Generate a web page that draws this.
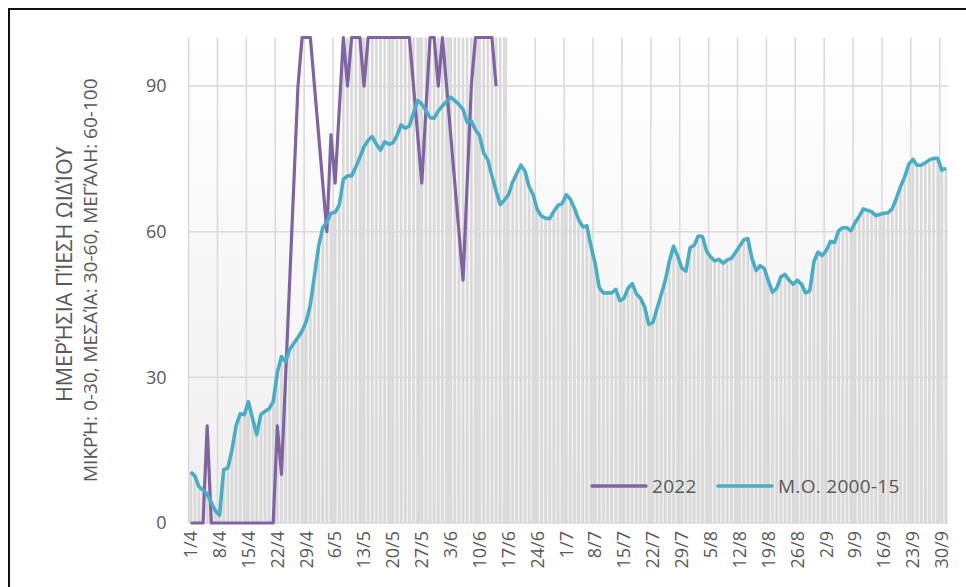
<!DOCTYPE html>
<html>
<head>
<meta charset="utf-8">
<script src="https://cdn.jsdelivr.net/npm/d3@7"></script>
<style>
  body { margin: 0; background: #fff; }
  text { font-family: "Open Sans", sans-serif; fill: #595959; }
</style>
</head>
<body>
<script>
const width = 966,
  height = 587;

const margin = { top: 37.5, right: 18, bottom: 64, left: 188.6 };
const innerWidth = width - margin.left - margin.right;
const innerHeight = height - margin.top - margin.bottom;

// 1/4 .. 1/10, one category per day
const days = d3.timeDay.range(new Date(2022, 3, 1), new Date(2022, 9, 2));
const dayLabel = d3.timeFormat("%-d/%-m");
const labels = days.map(dayLabel);

// M.O. 2000-15
const moValues = [
  10.5, 9.7, 7.5, 6.8, 6, 4.2, 2.5, 1.6, 11, 11.3,
  15, 20, 22.5, 22.3, 25, 21.5, 18.2, 22.3, 23, 23.5,
  25, 31, 34.3, 33.2, 35.8, 37, 38.2, 39.6, 41.5, 45,
  51, 57, 60.8, 62, 63.8, 64, 65.5, 70.8, 71.5, 71.5,
  73.3, 75.3, 77.5, 78.8, 79.6, 78, 76.8, 78.5, 78, 78.3,
  79.8, 82, 81.3, 81.8, 84.5, 87, 86.3, 85, 83.5, 83.4,
  84.9, 85.9, 86.8, 87.7, 87, 86.2, 85.2, 82.5, 82.8, 81,
  79.8, 76.2, 74.8, 71.5, 68.4, 65.6, 66.5, 67.6, 70.2, 72,
  73.7, 72.5, 69.3, 67.6, 64.5, 63.2, 62.8, 62.7, 64.2, 65.4,
  65.8, 67.6, 66.7, 64.8, 62.5, 61, 61.2, 57, 53.5, 48.5,
  47.4, 47.4, 47.4, 48.1, 45.8, 46.3, 48.4, 49.3, 47.2, 46.3,
  44.5, 40.9, 41.3, 44.2, 47, 50, 54, 57, 55, 52.5,
  51.9, 56.7, 57.2, 59.1, 59, 56, 54.8, 54, 54.3, 53.5,
  54.2, 54.5, 55.7, 57, 58.3, 58.6, 54.5, 52, 53, 52.4,
  49.8, 47.5, 48.4, 50.7, 51.2, 50, 49.2, 50, 49.2, 47.4,
  47.8, 53.8, 55.8, 55.1, 56.1, 58, 57.8, 60.2, 60.8, 60.8,
  60.2, 61.9, 63.2, 64.7, 64.4, 64.1, 63.3, 63.6, 63.8, 63.9,
  64.8, 66.9, 69.3, 71.3, 73.9, 74.9, 73.7, 73.7, 74.2, 74.8,
  75.1, 75.1, 72.7, 73.1
];

// 2022 (ends on 14/6)
const values2022 = [
  0, 0, 0, 0, 20, 0, 0, 0, 0, 0,
  0, 0, 0, 0, 0, 0, 0, 0, 0, 0,
  0, 20, 10, 30, 50, 70, 90, 100, 100, 100,
  90, 80, 70, 60, 80, 70, 85, 100, 90, 100,
  100, 100, 90, 100, 100, 100, 100, 100, 100, 100,
  100, 100, 100, 100, 90, 80, 70, 85, 100, 100,
  90, 100, 90, 80, 70, 60, 50, 70, 90, 100,
  100, 100, 100, 100, 90
];

// days where the grey columns run to the top of the scale
const fullBarDays = ["8/5", "16/6"];

const yTicks = [0, 30, 60, 90];
const legendItems = ["2022", "M.O. 2000-15"];
const colors = { y2022: "#8064a2", mo: "#4bacc6", bar: "#d9d9d9", grid: "#d9d9d9" };

const fullFrom = labels.indexOf(fullBarDays[0]);
const fullTo = labels.indexOf(fullBarDays[1]);
const barValues = moValues.map((v, i) => (i >= fullFrom && i <= fullTo ? 100 : v));

const xScale = d3
  .scaleBand()
  .domain(labels)
  .range([0, innerWidth])
  .padding(0);
const bw = xScale.bandwidth();
const xMid = d => xScale(d) + bw / 2;

const yScale = d3
  .scaleLinear()
  .domain([0, 100])
  .range([innerHeight, 0]);

const svg = d3
  .select("body")
  .append("svg")
  .attr("width", width)
  .attr("height", height);

// frame of the original document
svg.append("rect").attr("x", 8).attr("y", 8).attr("width", width - 8).attr("height", 2).attr("fill", "#111");
svg.append("rect").attr("x", 8).attr("y", 8).attr("width", 2).attr("height", height - 8).attr("fill", "#111");

const defs = svg.append("defs");
const grad = defs
  .append("linearGradient")
  .attr("id", "plotBg")
  .attr("x1", 0)
  .attr("y1", 0)
  .attr("x2", 0)
  .attr("y2", 1);
grad.append("stop").attr("offset", "0%").attr("stop-color", "#ffffff");
grad.append("stop").attr("offset", "100%").attr("stop-color", "#efefef");

const mainG = svg
  .append("g")
  .attr("transform", `translate(${margin.left}, ${margin.top})`);

mainG
  .append("rect")
  .attr("width", innerWidth)
  .attr("height", innerHeight)
  .attr("fill", "url(#plotBg)");

// weekly vertical gridlines
const weekLabels = labels.filter((d, i) => i % 7 === 0);
mainG
  .append("g")
  .selectAll("line")
  .data(weekLabels)
  .enter()
  .append("line")
  .attr("x1", d => xScale(d))
  .attr("x2", d => xScale(d))
  .attr("y1", 0)
  .attr("y2", innerHeight)
  .attr("stroke", colors.grid)
  .attr("stroke-width", 1.5);

// horizontal gridlines
mainG
  .append("g")
  .selectAll("line")
  .data(yTicks)
  .enter()
  .append("line")
  .attr("x1", 0)
  .attr("x2", innerWidth)
  .attr("y1", d => yScale(d))
  .attr("y2", d => yScale(d))
  .attr("stroke", colors.grid)
  .attr("stroke-width", 1.5);

// grey columns
mainG
  .append("g")
  .selectAll("rect")
  .data(labels)
  .enter()
  .append("rect")
  .attr("x", d => xScale(d) + bw * 0.18)
  .attr("width", bw * 0.64)
  .attr("y", (d, i) => yScale(barValues[i]))
  .attr("height", (d, i) => innerHeight - yScale(barValues[i]))
  .attr("fill", colors.bar);

const line = d3
  .line()
  .x(d => xMid(d.label))
  .y(d => yScale(d.value));

mainG
  .append("path")
  .datum(labels.map((d, i) => ({ label: d, value: values2022[i] })).filter(d => d.value !== undefined))
  .attr("d", line)
  .attr("fill", "none")
  .attr("stroke", colors.y2022)
  .attr("stroke-width", 3.2)
  .attr("stroke-linejoin", "round");

mainG
  .append("path")
  .datum(labels.map((d, i) => ({ label: d, value: moValues[i] })))
  .attr("d", line)
  .attr("fill", "none")
  .attr("stroke", colors.mo)
  .attr("stroke-width", 3.6)
  .attr("stroke-linejoin", "round");

// axes
const xAxis = d3
  .axisBottom(xScale)
  .tickValues(weekLabels)
  .tickSize(0);

mainG
  .append("g")
  .attr("id", "x-axis")
  .attr("transform", `translate(0,${innerHeight})`)
  .call(xAxis)
  .call(g => g.select(".domain").remove())
  .selectAll("text")
  .attr("font-size", 18)
  .attr("text-anchor", "end")
  .attr("transform", "rotate(-90)")
  .attr("x", -8)
  .attr("y", 0)
  .attr("dy", "0.35em");

const yAxis = d3
  .axisLeft(yScale)
  .tickValues(yTicks)
  .tickSize(0)
  .tickPadding(22);

mainG
  .append("g")
  .attr("id", "y-axis")
  .call(yAxis)
  .call(g => g.select(".domain").remove())
  .selectAll("text")
  .attr("font-size", 18);

mainG.selectAll(".tick text").style("fill", "#595959").attr("font-family", '"Open Sans", sans-serif');

// y axis titles
svg
  .append("text")
  .attr("transform", `translate(72, ${margin.top + innerHeight / 2 - 6}) rotate(-90)`)
  .attr("text-anchor", "middle")
  .attr("font-size", 21.5)
  .text("ΗΜΕΡΉΣΙΑ ΠΊΕΣΗ ΩΙΔΊΟΥ");

svg
  .append("text")
  .attr("transform", `translate(97, ${margin.top + innerHeight / 2}) rotate(-90)`)
  .attr("text-anchor", "middle")
  .attr("font-size", 19)
  .text("ΜΙΚΡΉ: 0-30, ΜΕΣΑΊΑ: 30-60, ΜΕΓΆΛΗ: 60-100");

// legend
const legend = svg
  .append("g")
  .attr("class", "legend")
  .selectAll("g")
  .data(legendItems)
  .enter()
  .append("g")
  .attr("transform", (d, i) => `translate(${592 + i * 126}, 486)`);

legend
  .append("line")
  .attr("x1", 0)
  .attr("x2", 54)
  .attr("stroke", (d, i) => (i === 0 ? colors.y2022 : colors.mo))
  .attr("stroke-width", 3.5)
  .attr("stroke-linecap", "round");

legend
  .append("text")
  .attr("x", 60)
  .attr("dy", "0.35em")
  .attr("font-size", 19)
  .attr("letter-spacing", 0.3)
  .text(d => d);
</script>
</body>
</html>
